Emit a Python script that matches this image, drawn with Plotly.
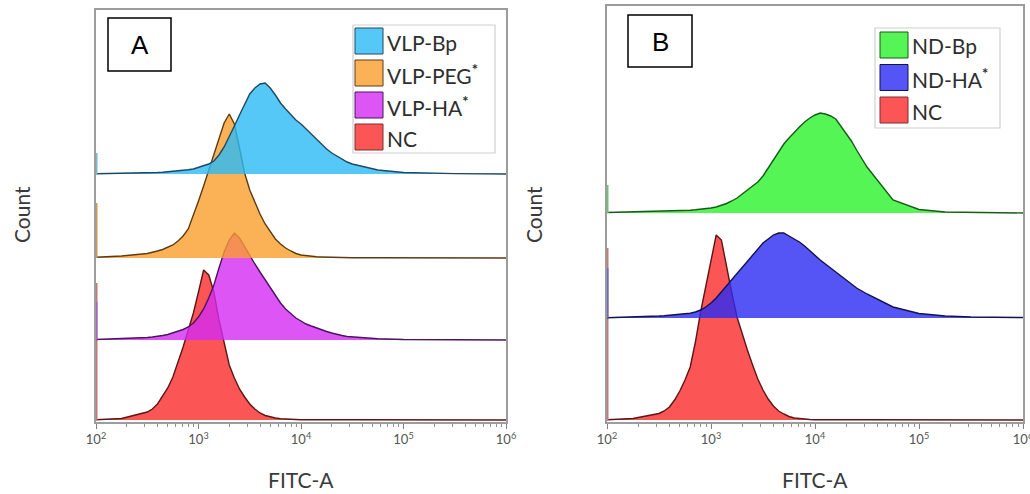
import plotly.graph_objects as go

W, H = 1030, 494

# ---------------- data ----------------
# histogram bin positions (log10 of FITC-A)
LOG_FITC = [2.0, 2.25, 2.5, 2.55, 2.6, 2.65, 2.7, 2.75, 2.8, 2.85,
            2.9, 2.95, 3.0, 3.05, 3.1, 3.15, 3.2, 3.25, 3.3, 3.35,
            3.4, 3.45, 3.5, 3.55, 3.6, 3.65, 3.7, 3.75, 3.8, 3.85,
            3.9, 3.95, 4.0, 4.05, 4.1, 4.15, 4.2, 4.25, 4.3, 4.35,
            4.4, 4.45, 4.5, 4.75, 5.0, 5.25, 5.5, 6.0]

# Panel A (relative counts)
VLP_BP = [0.3, 0.5, 1.0, 1.2, 1.5, 1.8, 2.2, 2.6, 3.0, 3.5,
          4.2, 5.0, 6.5, 8.0, 10, 13, 19, 27, 37, 48,
          59, 70, 80, 86, 90, 91, 86, 79, 71, 65,
          59, 54, 50, 45, 39, 34, 30, 25, 21, 18,
          15, 12, 10, 4.0, 1.5, 0.7, 0.4, 0.0]
VLP_PEG = [0.8, 2.0, 4.5, 5.5, 7.0, 8.5, 10.5, 13, 17, 22,
           29, 42, 57, 72, 88, 104, 121, 135, 144, 134,
           110, 85, 68, 55, 44, 34, 26, 19, 14, 10,
           7.0, 4.5, 3.0, 2.2, 1.6, 1.2, 1.0, 0.8, 0.6, 0.5,
           0.4, 0.3, 0.3, 0.2, 0.1, 0.0, 0.0, 0.0]
VLP_HA = [0.5, 1.2, 2.5, 3.0, 3.5, 4.5, 5.5, 7.0, 8.5, 10.5,
          13, 17, 23, 31, 42, 55, 72, 88, 100, 107,
          102, 93, 85, 76, 68, 60, 52, 45, 37, 31,
          26, 22, 19, 16, 14, 12, 10, 8.5, 7.0, 5.5,
          4.5, 3.5, 3.0, 1.2, 0.5, 0.3, 0.2, 0.0]
NC_A = [0.3, 1.5, 8, 11, 16, 24, 32, 43, 57, 73,
        90, 107, 128, 150, 145, 128, 100, 77, 55, 42,
        31, 23, 16, 11, 7.0, 4.5, 3.0, 2.0, 1.2, 0.8,
        0.5, 0.4, 0.3, 0.3, 0.2, 0.2, 0.2, 0.2, 0.2, 0.2,
        0.2, 0.2, 0.2, 0.2, 0.1, 0.1, 0.1, 0.0]

# Panel B
ND_BP = [0.5, 1.0, 1.5, 1.7, 1.8, 2.0, 2.2, 2.5, 2.8, 3.2,
         3.6, 4.2, 5.0, 6.0, 7.5, 9.5, 12, 15, 19, 23,
         27, 31, 37, 45, 54, 62, 69, 75, 81, 86,
         91, 95, 98, 100, 99, 97, 94, 87, 80, 72,
         63, 54, 46, 13, 3.5, 1.0, 0.5, 0.0]
ND_HA = [0.3, 0.8, 2.0, 2.3, 2.7, 3.2, 3.7, 4.2, 4.8, 6.0,
         8, 11, 15, 20, 26, 33, 39, 45, 51, 57,
         63, 69, 75, 79, 83, 85, 85, 82, 79, 76,
         72, 67, 63, 58, 54, 50, 46, 42, 38, 34,
         30, 27, 24, 11, 4.5, 2.0, 1.0, 0.5]
NC_B = [0.3, 1.5, 6.5, 9, 13, 20, 29, 40, 53, 78,
        108, 133, 160, 185, 180, 153, 127, 103, 86, 70,
        55, 41, 30, 21, 14, 9, 6, 3.5, 2.0, 1.3,
        0.8, 0.5, 0.3, 0.2, 0.2, 0.2, 0.2, 0.2, 0.2, 0.2,
        0.2, 0.2, 0.2, 0.2, 0.1, 0.1, 0.1, 0.0]

# counts piled up in the first (off-scale) bin
EDGE_A = {"NC": 137, "VLP-HA": 38, "VLP-PEG": 55, "VLP-Bp": 21}
EDGE_B = {"NC": 172, "ND-HA": 50, "ND-Bp": 28}

NAMES_A = ["VLP-Bp", "VLP-PEG<sup><b>*</b></sup>", "VLP-HA<sup><b>*</b></sup>", "NC"]
NAMES_B = ["ND-Bp", "ND-HA<sup><b>*</b></sup>", "NC"]

TICK_VALS = [1e2, 1e3, 1e4, 1e5, 1e6]
TICK_TEXT = ["10<sup>2</sup>", "10<sup>3</sup>", "10<sup>4</sup>", "10<sup>5</sup>", "10<sup>6</sup>"]

# ---------------- styling ----------------
STYLE = {
    "VLP-Bp":  dict(fill="rgba(43,186,246,0.8)", line="#1d4a62", edge="#7ab8d6", sw="#55c8f8"),
    "VLP-PEG": dict(fill="rgba(250,159,45,0.8)", line="#5c3c12", edge="#c79a5c", sw="#fbb257"),
    "VLP-HA":  dict(fill="rgba(212,42,243,0.8)", line="#4a1462", edge="#a466c4", sw="#dd55f5"),
    "NC":      dict(fill="rgba(250,42,42,0.8)", line="#5c1616", edge="#c47878", sw="#fb5555"),
    "ND-Bp":   dict(fill="rgba(42,243,42,0.8)", line="#165c16", edge="#6cc46c", sw="#55f555"),
    "ND-HA":   dict(fill="rgba(42,42,243,0.8)", line="#12124e", edge="#6a6ac4", sw="#5555f5"),
}

fig = go.Figure()
xs = [10 ** g for g in LOG_FITC]


def add_series(key, counts, offset, edge, xa, ya):
    st = STYLE[key]
    ytop = [offset + c for c in counts]
    fig.add_trace(go.Scatter(x=xs + [xs[-1], xs[0]], y=ytop + [offset, offset],
                             mode="lines", fill="toself", fillcolor=st["fill"],
                             line=dict(width=0), xaxis=xa, yaxis=ya,
                             hoverinfo="skip", showlegend=False))
    fig.add_trace(go.Scatter(x=xs, y=ytop, mode="lines",
                             line=dict(color=st["line"], width=1.4),
                             xaxis=xa, yaxis=ya, name=key, showlegend=False))
    fig.add_trace(go.Scatter(x=[xs[0], xs[0]], y=[offset, offset + edge], mode="lines",
                             line=dict(color=st["edge"], width=3),
                             xaxis=xa, yaxis=ya, hoverinfo="skip", showlegend=False))


# panel A: bottom to top (top-most drawn last)
OFFS_A = {"NC": 2, "VLP-HA": 82, "VLP-PEG": 164, "VLP-Bp": 248}
for key, cnt in [("NC", NC_A), ("VLP-HA", VLP_HA), ("VLP-PEG", VLP_PEG), ("VLP-Bp", VLP_BP)]:
    add_series(key, cnt, OFFS_A[key], EDGE_A[key], "x", "y")

OFFS_B = {"NC": 2, "ND-HA": 104, "ND-Bp": 209}
for key, cnt in [("NC", NC_B), ("ND-HA", ND_HA), ("ND-Bp", ND_BP)]:
    add_series(key, cnt, OFFS_B[key], EDGE_B[key], "x2", "y2")


def px(x):
    return x / W


def py(y):
    return 1 - y / H


minor_vals = [m * 10 ** k for k in range(2, 6) for m in range(2, 10)]
frame = dict(showline=True, mirror=True, linecolor="#9c9c9c", linewidth=1.5,
             showgrid=False, zeroline=False, automargin=False)
xcommon = dict(type="log", range=[2, 6], tickvals=TICK_VALS, ticktext=TICK_TEXT,
               ticks="outside", ticklen=5, tickwidth=1, tickcolor="#808080",
               tickfont=dict(family="Lato", size=13, color="#555555"),
               ticklabeloverflow="allow",
               minor=dict(tickvals=minor_vals, ticks="outside", ticklen=3,
                          tickcolor="#909090", tickwidth=1),
               **frame)
ycommon = dict(showticklabels=False, ticks="", layer="below traces", **frame)

fig.update_layout(
    width=W, height=H, margin=dict(l=0, r=0, t=0, b=0, autoexpand=False),
    paper_bgcolor="white", plot_bgcolor="white", showlegend=False,
    xaxis=dict(domain=[px(96), px(506)], anchor="y", **xcommon),
    yaxis=dict(domain=[py(422), py(10)], range=[0, 412], anchor="x", **ycommon),
    xaxis2=dict(domain=[px(607), px(1023)], anchor="y2", **xcommon),
    yaxis2=dict(domain=[py(422), py(6)], range=[0, 416], anchor="x2", **ycommon),
)

shapes = []
annos = []
txt_font = dict(family="Lato", size=21, color="#3a3a3a")

# axis titles
for cx in (301, 815):
    annos.append(dict(x=px(cx), y=py(479), xref="paper", yref="paper", text="FITC-A",
                      showarrow=False, font=txt_font, xanchor="center", yanchor="middle"))
for cx in (21, 533):
    annos.append(dict(x=px(cx), y=py(215), xref="paper", yref="paper", text="Count",
                      showarrow=False, font=txt_font, textangle=-90,
                      xanchor="center", yanchor="middle"))

# panel label boxes
for lab, (x0, y0, x1, y1) in [("A", (108, 18, 171, 71)), ("B", (628, 15, 692, 67))]:
    shapes.append(dict(type="rect", xref="paper", yref="paper", x0=px(x0), x1=px(x1),
                       y0=py(y1), y1=py(y0), line=dict(color="black", width=1.5),
                       fillcolor="white"))
    annos.append(dict(x=px((x0 + x1) / 2), y=py((y0 + y1) / 2 + 1), xref="paper", yref="paper",
                      text=lab, showarrow=False,
                      font=dict(family="Liberation Sans", size=26, color="black"),
                      xanchor="center", yanchor="middle"))


# custom legends
def legend(box, sw_x, row_top, pitch, names, keys):
    x0, y0, x1, y1 = box
    shapes.append(dict(type="rect", xref="paper", yref="paper", x0=px(x0), x1=px(x1),
                       y0=py(y1), y1=py(y0), line=dict(color="#cfcfcf", width=1.2),
                       fillcolor="white"))
    for i, (nm, key) in enumerate(zip(names, keys)):
        top = row_top + i * pitch
        st = STYLE[key]
        shapes.append(dict(type="rect", xref="paper", yref="paper",
                           x0=px(sw_x), x1=px(sw_x + 28), y0=py(top + 26), y1=py(top),
                           line=dict(color="#7a3030" if key == "NC" else st["line"], width=1),
                           fillcolor=st["sw"]))
        annos.append(dict(x=px(sw_x + 30), y=py(top + 14), xref="paper", yref="paper",
                          text=nm, showarrow=False, xanchor="left", yanchor="middle",
                          font=dict(family="Lato", size=21, color="#2e2e2e")))


legend((353, 25, 495, 153), 355, 28, 32, NAMES_A, ["VLP-Bp", "VLP-PEG", "VLP-HA", "NC"])
legend((875, 28, 1000, 128), 880, 32, 32.5, NAMES_B, ["ND-Bp", "ND-HA", "NC"])

fig.update_layout(shapes=shapes, annotations=annos)
fig.write_html("out.html", config={"displayModeBar": False},
               post_script="document.body.style.margin='0px';document.body.style.padding='0px';")
